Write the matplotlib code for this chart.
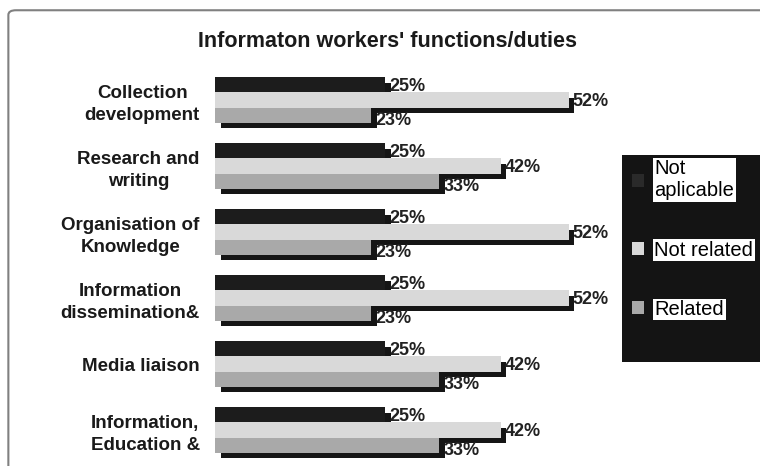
import matplotlib
matplotlib.use("Agg")
import matplotlib.pyplot as plt
import matplotlib.patheffects as pe
from matplotlib.patches import Patch, FancyBboxPatch, Rectangle
import numpy as np

plt.rcParams['font.family'] = ['Liberation Sans', 'DejaVu Sans']

categories = ["Collection\ndevelopment", "Research and\nwriting", "Organisation of\nKnowledge",
              "Information\ndissemination&", "Media liaison", "Information,\nEducation &"]
not_applicable = [25, 25, 25, 25, 25, 25]
not_related = [52, 42, 52, 52, 42, 42]
related = [23, 33, 23, 23, 33, 33]
series_names = ["Not\naplicable", "Not related", "Related"]
title = "Informaton workers' functions/duties"

fig = plt.figure(figsize=(7.6, 4.66), dpi=100)
fig.patch.set_facecolor('white')

frame = FancyBboxPatch((0.011, -0.05), 1.1, 1.028, boxstyle="round,pad=0,rounding_size=0.01",
                       transform=fig.transFigure, facecolor='none', edgecolor='#808080', lw=1.5)
fig.patches.append(frame)

ax = fig.add_axes([0.283, 0.0, 0.533, 0.893])
y = np.arange(len(categories))
h = 0.23
colors = ['#1c1c1c', '#d9d9d9', '#a9a9a9']
shadow = [pe.SimplePatchShadow(offset=(4, -4), shadow_rgbFace='#151515', alpha=1.0), pe.Normal()]

series = [not_applicable, not_related, related]
offsets = [-h, 0, h]
label_dy = [0, 0, -3]
for vals, off, col, dy in zip(series, offsets, colors, label_dy):
    bars = ax.barh(y + off, vals, height=h, color=col, edgecolor='none')
    for b in bars:
        b.set_path_effects(shadow)
    for b, v in zip(bars, vals):
        ax.annotate(f"{v}%", (b.get_width(), b.get_y() + b.get_height() / 2),
                    xytext=(3, dy - 1), textcoords='offset points', ha='left', va='center',
                    fontsize=13, fontweight='bold', color='#222222')

ax.set_xlim(0, 59.6)
ax.set_ylim(5.545, -0.76)
ax.set_yticks(y)
ax.set_yticklabels(categories, fontsize=13.5, fontweight='bold', color='#1a1a1a',
                   linespacing=1.4)
for t in ax.get_yticklabels():
    t.set_multialignment('center')
ax.tick_params(axis='y', length=0, pad=11)
ax.set_xticks([])
for s in ax.spines.values():
    s.set_visible(False)
ax.set_facecolor('none')

fig.text(0.51, 0.91, title, ha='center', va='center', fontsize=15.5, fontweight='bold',
         color='#1a1a1a')

# legend background box (extends past the right edge as in the reference)
fig.patches.append(Rectangle((0.818, 0.223), 0.2, 0.444, transform=fig.transFigure,
                             facecolor='#141414', edgecolor='none', zorder=2))
handles = [Patch(facecolor='#2a2a2a'), Patch(facecolor='#d9d9d9'), Patch(facecolor='#a9a9a9')]
leg = fig.legend(handles, series_names, loc='upper left', bbox_to_anchor=(0.832, 0.658),
                 frameon=False, fontsize=14.5, handlelength=0.6, handleheight=0.6,
                 handletextpad=0.5, labelspacing=2.0, borderpad=0, borderaxespad=0)
for t in leg.get_texts():
    t.set_color('black')
    t.set_bbox(dict(facecolor='white', edgecolor='none', pad=1))

fig.savefig("out.png", dpi=100)
